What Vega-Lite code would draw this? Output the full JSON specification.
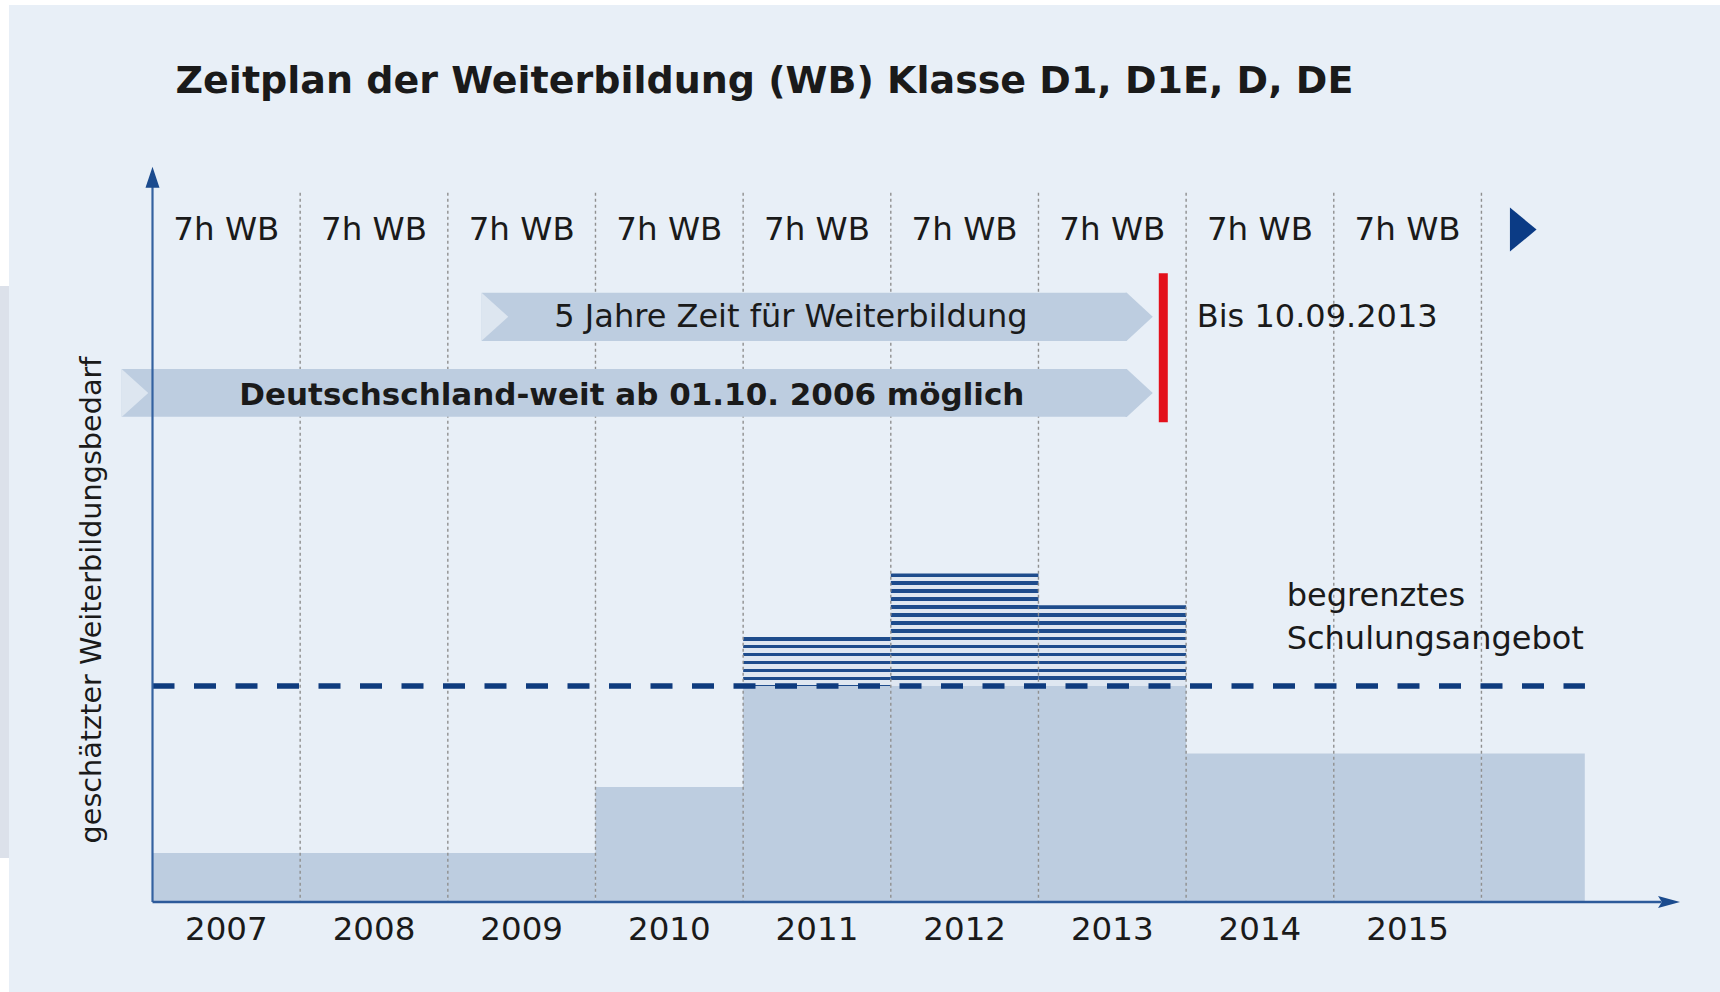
{
  "$schema": "https://vega.github.io/schema/vega-lite/v6.json",
  "width": 1720,
  "height": 992,
  "autosize": {"type": "none"},
  "padding": 0,
  "background": "#FFFFFF",
  "config": {
    "view": {"stroke": null},
    "axis": {"disable": true},
    "legend": {"disable": true},
    "text": {"font": "DejaVu Sans", "color": "#1A1A1A"}
  },
  "data": {"values": [{}]},
  "datasets": {
    "jahre": [
      {"jahr": 2007, "von": 2006.5, "bis": 2007.5, "gedeckt": 22.7, "bedarf": 22.7, "pflicht": "7h WB"},
      {"jahr": 2008, "von": 2007.5, "bis": 2008.5, "gedeckt": 22.7, "bedarf": 22.7, "pflicht": "7h WB"},
      {"jahr": 2009, "von": 2008.5, "bis": 2009.5, "gedeckt": 22.7, "bedarf": 22.7, "pflicht": "7h WB"},
      {"jahr": 2010, "von": 2009.5, "bis": 2010.5, "gedeckt": 53.2, "bedarf": 53.2, "pflicht": "7h WB"},
      {"jahr": 2011, "von": 2010.5, "bis": 2011.5, "gedeckt": 100, "bedarf": 122.7, "pflicht": "7h WB"},
      {"jahr": 2012, "von": 2011.5, "bis": 2012.5, "gedeckt": 100, "bedarf": 152.1, "pflicht": "7h WB"},
      {"jahr": 2013, "von": 2012.5, "bis": 2013.5, "gedeckt": 100, "bedarf": 137.4, "pflicht": "7h WB"},
      {"jahr": 2014, "von": 2013.5, "bis": 2014.5, "gedeckt": 68.7, "bedarf": 68.7, "pflicht": "7h WB"},
      {"jahr": 2015, "von": 2014.5, "bis": 2015.5, "gedeckt": 68.7, "bedarf": 68.7, "pflicht": "7h WB"},
      {"jahr": 2016, "von": 2015.5, "bis": 2016.2, "gedeckt": 68.7, "bedarf": 68.7, "pflicht": ""}
    ],
    "banner": [
      {"text": "5 Jahre Zeit für Weiterbildung", "von": 2008.729, "bis": 2013.098, "oben": 282.08, "unten": 259.72},
      {"text": "Deutschschland-weit ab 01.10. 2006 möglich", "von": 2006.291, "bis": 2013.098, "oben": 246.76, "unten": 224.68}
    ]
  },
  "layer": [
    {
      "mark": {"type": "rect", "fill": "#E8EFF7"},
      "encoding": {
        "x": {"datum": 2005.528, "type": "quantitative", "scale": {"domain": [2005.4672, 2017.1156]}},
        "x2": {"datum": 2017.1156},
        "y": {"datum": 415.28, "type": "quantitative", "scale": {"domain": [-41.667, 417.593]}},
        "y2": {"datum": -41.667}
      }
    },
    {
      "mark": {"type": "rect", "fill": "#DCE1EA"},
      "encoding": {
        "x": {"datum": 2005.4672, "type": "quantitative", "scale": {"domain": [2005.4672, 2017.1156]}},
        "x2": {"datum": 2005.528},
        "y": {"datum": 285.2, "type": "quantitative", "scale": {"domain": [-41.667, 417.593]}},
        "y2": {"datum": 20.4}
      }
    },
    {
      "data": {"name": "jahre"},
      "mark": {"type": "rect", "fill": "#BDCDE0"},
      "encoding": {
        "x": {"field": "von", "type": "quantitative", "scale": {"domain": [2005.4672, 2017.1156]}},
        "x2": {"field": "bis"},
        "y": {"field": "gedeckt", "type": "quantitative", "scale": {"domain": [-41.667, 417.593]}},
        "y2": {"datum": 0}
      }
    },
    {
      "data": {"name": "jahre"},
      "transform": [{"filter": "datum.bedarf > datum.gedeckt"}],
      "mark": {"type": "rect"},
      "encoding": {
        "x": {"field": "von", "type": "quantitative", "scale": {"domain": [2005.4672, 2017.1156]}},
        "x2": {"field": "bis"},
        "y": {"field": "bedarf", "type": "quantitative", "scale": {"domain": [-41.667, 417.593]}},
        "y2": {"field": "gedeckt"},
        "fill": {
          "condition": [
            {"test": "datum.jahr === 2011", "value": {"gradient": "linear", "x1": 0, "y1": 0, "x2": 0, "y2": 2.2959, "stops": [
              {"offset": 0, "color": "#1E4C8C"}, {"offset": 0.032, "color": "#1E4C8C"}, {"offset": 0.032, "color": "#DFE7F1"}, {"offset": 0.0704, "color": "#DFE7F1"},
              {"offset": 0.0704, "color": "#1E4C8C"}, {"offset": 0.1024, "color": "#1E4C8C"}, {"offset": 0.1024, "color": "#DFE7F1"}, {"offset": 0.1408, "color": "#DFE7F1"},
              {"offset": 0.1408, "color": "#1E4C8C"}, {"offset": 0.1728, "color": "#1E4C8C"}, {"offset": 0.1728, "color": "#DFE7F1"}, {"offset": 0.2112, "color": "#DFE7F1"},
              {"offset": 0.2112, "color": "#1E4C8C"}, {"offset": 0.2432, "color": "#1E4C8C"}, {"offset": 0.2432, "color": "#DFE7F1"}, {"offset": 0.2816, "color": "#DFE7F1"},
              {"offset": 0.2816, "color": "#1E4C8C"}, {"offset": 0.3136, "color": "#1E4C8C"}, {"offset": 0.3136, "color": "#DFE7F1"}, {"offset": 0.352, "color": "#DFE7F1"},
              {"offset": 0.352, "color": "#1E4C8C"}, {"offset": 0.384, "color": "#1E4C8C"}, {"offset": 0.384, "color": "#DFE7F1"}, {"offset": 0.4224, "color": "#DFE7F1"},
              {"offset": 0.4224, "color": "#1E4C8C"}, {"offset": 0.4544, "color": "#1E4C8C"}, {"offset": 0.4544, "color": "#DFE7F1"}, {"offset": 1, "color": "#DFE7F1"}
            ]}},
            {"test": "datum.jahr === 2013", "value": {"gradient": "linear", "x1": 0, "y1": 0, "x2": 0, "y2": 1.3923, "stops": [
              {"offset": 0, "color": "#1E4C8C"}, {"offset": 0.032, "color": "#1E4C8C"}, {"offset": 0.032, "color": "#DFE7F1"}, {"offset": 0.0704, "color": "#DFE7F1"},
              {"offset": 0.0704, "color": "#1E4C8C"}, {"offset": 0.1024, "color": "#1E4C8C"}, {"offset": 0.1024, "color": "#DFE7F1"}, {"offset": 0.1408, "color": "#DFE7F1"},
              {"offset": 0.1408, "color": "#1E4C8C"}, {"offset": 0.1728, "color": "#1E4C8C"}, {"offset": 0.1728, "color": "#DFE7F1"}, {"offset": 0.2112, "color": "#DFE7F1"},
              {"offset": 0.2112, "color": "#1E4C8C"}, {"offset": 0.2432, "color": "#1E4C8C"}, {"offset": 0.2432, "color": "#DFE7F1"}, {"offset": 0.2816, "color": "#DFE7F1"},
              {"offset": 0.2816, "color": "#1E4C8C"}, {"offset": 0.3136, "color": "#1E4C8C"}, {"offset": 0.3136, "color": "#DFE7F1"}, {"offset": 0.352, "color": "#DFE7F1"},
              {"offset": 0.352, "color": "#1E4C8C"}, {"offset": 0.384, "color": "#1E4C8C"}, {"offset": 0.384, "color": "#DFE7F1"}, {"offset": 0.4224, "color": "#DFE7F1"},
              {"offset": 0.4224, "color": "#1E4C8C"}, {"offset": 0.4544, "color": "#1E4C8C"}, {"offset": 0.4544, "color": "#DFE7F1"}, {"offset": 0.4928, "color": "#DFE7F1"},
              {"offset": 0.4928, "color": "#1E4C8C"}, {"offset": 0.5248, "color": "#1E4C8C"}, {"offset": 0.5248, "color": "#DFE7F1"}, {"offset": 0.5632, "color": "#DFE7F1"},
              {"offset": 0.5632, "color": "#1E4C8C"}, {"offset": 0.5952, "color": "#1E4C8C"}, {"offset": 0.5952, "color": "#DFE7F1"}, {"offset": 0.6336, "color": "#DFE7F1"},
              {"offset": 0.6336, "color": "#1E4C8C"}, {"offset": 0.6656, "color": "#1E4C8C"}, {"offset": 0.6656, "color": "#DFE7F1"}, {"offset": 1, "color": "#DFE7F1"}
            ]}}
          ],
          "value": {"gradient": "linear", "x1": 0, "y1": 0, "x2": 0, "y2": 1, "stops": [
            {"offset": 0, "color": "#1E4C8C"}, {"offset": 0.032, "color": "#1E4C8C"}, {"offset": 0.032, "color": "#DFE7F1"}, {"offset": 0.0704, "color": "#DFE7F1"},
            {"offset": 0.0704, "color": "#1E4C8C"}, {"offset": 0.1024, "color": "#1E4C8C"}, {"offset": 0.1024, "color": "#DFE7F1"}, {"offset": 0.1408, "color": "#DFE7F1"},
            {"offset": 0.1408, "color": "#1E4C8C"}, {"offset": 0.1728, "color": "#1E4C8C"}, {"offset": 0.1728, "color": "#DFE7F1"}, {"offset": 0.2112, "color": "#DFE7F1"},
            {"offset": 0.2112, "color": "#1E4C8C"}, {"offset": 0.2432, "color": "#1E4C8C"}, {"offset": 0.2432, "color": "#DFE7F1"}, {"offset": 0.2816, "color": "#DFE7F1"},
            {"offset": 0.2816, "color": "#1E4C8C"}, {"offset": 0.3136, "color": "#1E4C8C"}, {"offset": 0.3136, "color": "#DFE7F1"}, {"offset": 0.352, "color": "#DFE7F1"},
            {"offset": 0.352, "color": "#1E4C8C"}, {"offset": 0.384, "color": "#1E4C8C"}, {"offset": 0.384, "color": "#DFE7F1"}, {"offset": 0.4224, "color": "#DFE7F1"},
            {"offset": 0.4224, "color": "#1E4C8C"}, {"offset": 0.4544, "color": "#1E4C8C"}, {"offset": 0.4544, "color": "#DFE7F1"}, {"offset": 0.4928, "color": "#DFE7F1"},
            {"offset": 0.4928, "color": "#1E4C8C"}, {"offset": 0.5248, "color": "#1E4C8C"}, {"offset": 0.5248, "color": "#DFE7F1"}, {"offset": 0.5632, "color": "#DFE7F1"},
            {"offset": 0.5632, "color": "#1E4C8C"}, {"offset": 0.5952, "color": "#1E4C8C"}, {"offset": 0.5952, "color": "#DFE7F1"}, {"offset": 0.6336, "color": "#DFE7F1"},
            {"offset": 0.6336, "color": "#1E4C8C"}, {"offset": 0.6656, "color": "#1E4C8C"}, {"offset": 0.6656, "color": "#DFE7F1"}, {"offset": 0.704, "color": "#DFE7F1"},
            {"offset": 0.704, "color": "#1E4C8C"}, {"offset": 0.736, "color": "#1E4C8C"}, {"offset": 0.736, "color": "#DFE7F1"}, {"offset": 0.7744, "color": "#DFE7F1"},
            {"offset": 0.7744, "color": "#1E4C8C"}, {"offset": 0.8064, "color": "#1E4C8C"}, {"offset": 0.8064, "color": "#DFE7F1"}, {"offset": 0.8448, "color": "#DFE7F1"},
            {"offset": 0.8448, "color": "#1E4C8C"}, {"offset": 0.8768, "color": "#1E4C8C"}, {"offset": 0.8768, "color": "#DFE7F1"}, {"offset": 0.9152, "color": "#DFE7F1"},
            {"offset": 0.9152, "color": "#1E4C8C"}, {"offset": 0.9472, "color": "#1E4C8C"}, {"offset": 0.9472, "color": "#DFE7F1"}, {"offset": 1, "color": "#DFE7F1"}
          ]}
        }
      }
    },
    {
      "data": {"name": "jahre"},
      "transform": [{"filter": "datum.jahr <= 2015"}],
      "mark": {"type": "rule", "stroke": "#8F8F8F", "strokeWidth": 1.4, "strokeDash": [3, 3]},
      "encoding": {
        "x": {"field": "bis", "type": "quantitative", "scale": {"domain": [2005.4672, 2017.1156]}},
        "y": {"datum": 328.4, "type": "quantitative", "scale": {"domain": [-41.667, 417.593]}},
        "y2": {"datum": 0}
      }
    },
    {
      "data": {"name": "banner"},
      "mark": {"type": "rect", "fill": "#BDCDE0"},
      "encoding": {
        "x": {"field": "von", "type": "quantitative", "scale": {"domain": [2005.4672, 2017.1156]}},
        "x2": {"field": "bis"},
        "y": {"field": "oben", "type": "quantitative", "scale": {"domain": [-41.667, 417.593]}},
        "y2": {"field": "unten"}
      }
    },
    {
      "data": {"name": "banner"},
      "mark": {"type": "point", "shape": "M -0.05 0 L 0 0 L 1.083 1 L 0 2 L -0.05 2 Z", "size": 2304, "filled": true, "fill": "#BDCDE0", "opacity": 1, "strokeWidth": 0},
      "encoding": {
        "x": {"field": "bis", "type": "quantitative", "scale": {"domain": [2005.4672, 2017.1156]}},
        "y": {"field": "oben", "type": "quantitative", "scale": {"domain": [-41.667, 417.593]}}
      }
    },
    {
      "data": {"name": "banner"},
      "mark": {"type": "point", "shape": "M 0 0 L 1.11 1 L 0 2 Z", "size": 2304, "filled": true, "fill": "#DDE6F0", "opacity": 1, "strokeWidth": 0},
      "encoding": {
        "x": {"field": "von", "type": "quantitative", "scale": {"domain": [2005.4672, 2017.1156]}},
        "y": {"field": "oben", "type": "quantitative", "scale": {"domain": [-41.667, 417.593]}}
      }
    },
    {
      "mark": {"type": "text", "text": "5 Jahre Zeit für Weiterbildung", "fontSize": 32, "align": "center", "baseline": "alphabetic"},
      "encoding": {
        "x": {"datum": 2010.824, "type": "quantitative", "scale": {"domain": [2005.4672, 2017.1156]}},
        "y": {"datum": 266.3, "type": "quantitative", "scale": {"domain": [-41.667, 417.593]}}
      }
    },
    {
      "mark": {"type": "text", "text": "Deutschschland-weit ab 01.10. 2006 möglich", "fontSize": 31, "fontWeight": "bold", "align": "center", "baseline": "alphabetic"},
      "encoding": {
        "x": {"datum": 2009.746, "type": "quantitative", "scale": {"domain": [2005.4672, 2017.1156]}},
        "y": {"datum": 230.1, "type": "quantitative", "scale": {"domain": [-41.667, 417.593]}}
      }
    },
    {
      "mark": {"type": "rule", "stroke": "#E3101B", "strokeWidth": 9},
      "encoding": {
        "x": {"datum": 2013.3454, "type": "quantitative", "scale": {"domain": [2005.4672, 2017.1156]}},
        "y": {"datum": 291.06, "type": "quantitative", "scale": {"domain": [-41.667, 417.593]}},
        "y2": {"datum": 222.08}
      }
    },
    {
      "mark": {"type": "rule", "stroke": "#0E3B7E", "strokeWidth": 5.5, "strokeDash": [22, 19.5]},
      "encoding": {
        "x": {"datum": 2006.5, "type": "quantitative", "scale": {"domain": [2005.4672, 2017.1156]}},
        "x2": {"datum": 2016.201},
        "y": {"datum": 100, "type": "quantitative", "scale": {"domain": [-41.667, 417.593]}}
      }
    },
    {
      "mark": {"type": "rule", "stroke": "#3462A0", "strokeWidth": 2.2},
      "encoding": {
        "x": {"datum": 2006.5, "type": "quantitative", "scale": {"domain": [2005.4672, 2017.1156]}},
        "y": {"datum": 0, "type": "quantitative", "scale": {"domain": [-41.667, 417.593]}},
        "y2": {"datum": 331.9}
      }
    },
    {
      "mark": {"type": "rule", "stroke": "#2C5A9A", "strokeWidth": 2.5},
      "encoding": {
        "x": {"datum": 2006.5, "type": "quantitative", "scale": {"domain": [2005.4672, 2017.1156]}},
        "x2": {"datum": 2016.72},
        "y": {"datum": 0, "type": "quantitative", "scale": {"domain": [-41.667, 417.593]}}
      }
    },
    {
      "mark": {"type": "point", "shape": "M 0 0 L 0.667 2 L -0.667 2 Z", "size": 441, "filled": true, "fill": "#1B4B8E", "opacity": 1, "strokeWidth": 0},
      "encoding": {
        "x": {"datum": 2006.5, "type": "quantitative", "scale": {"domain": [2005.4672, 2017.1156]}},
        "y": {"datum": 340.4, "type": "quantitative", "scale": {"domain": [-41.667, 417.593]}}
      }
    },
    {
      "mark": {"type": "point", "shape": "M 0 0 L -2 -0.55 L -1.65 0 L -2 0.55 Z", "size": 484, "filled": true, "fill": "#1B4B8E", "opacity": 1, "strokeWidth": 0},
      "encoding": {
        "x": {"datum": 2016.845, "type": "quantitative", "scale": {"domain": [2005.4672, 2017.1156]}},
        "y": {"datum": 0, "type": "quantitative", "scale": {"domain": [-41.667, 417.593]}}
      }
    },
    {
      "mark": {"type": "point", "shape": "M 0 -1 L 1.21 0 L 0 1 Z", "size": 1936, "filled": true, "fill": "#0B3B85", "opacity": 1, "strokeWidth": 0},
      "encoding": {
        "x": {"datum": 2015.693, "type": "quantitative", "scale": {"domain": [2005.4672, 2017.1156]}},
        "y": {"datum": 311.3, "type": "quantitative", "scale": {"domain": [-41.667, 417.593]}}
      }
    },
    {
      "mark": {"type": "text", "text": "Zeitplan der Weiterbildung (WB) Klasse D1, D1E, D, DE", "fontSize": 38, "fontWeight": "bold", "align": "left", "baseline": "alphabetic"},
      "encoding": {
        "x": {"datum": 2006.656, "type": "quantitative", "scale": {"domain": [2005.4672, 2017.1156]}},
        "y": {"datum": 374.4, "type": "quantitative", "scale": {"domain": [-41.667, 417.593]}}
      }
    },
    {
      "data": {"name": "jahre"},
      "transform": [{"filter": "datum.jahr <= 2015"}],
      "mark": {"type": "text", "fontSize": 32.5, "align": "center", "baseline": "alphabetic"},
      "encoding": {
        "x": {"field": "jahr", "type": "quantitative", "scale": {"domain": [2005.4672, 2017.1156]}},
        "y": {"datum": 306.5, "type": "quantitative", "scale": {"domain": [-41.667, 417.593]}},
        "text": {"field": "pflicht", "type": "nominal"}
      }
    },
    {
      "data": {"name": "jahre"},
      "transform": [{"filter": "datum.jahr <= 2015"}],
      "mark": {"type": "text", "fontSize": 32.5, "align": "center", "baseline": "alphabetic"},
      "encoding": {
        "x": {"field": "jahr", "type": "quantitative", "scale": {"domain": [2005.4672, 2017.1156]}},
        "y": {"datum": -17.59, "type": "quantitative", "scale": {"domain": [-41.667, 417.593]}},
        "text": {"field": "jahr", "type": "nominal"}
      }
    },
    {
      "mark": {"type": "text", "text": "Bis 10.09.2013", "fontSize": 32, "align": "left", "baseline": "alphabetic"},
      "encoding": {
        "x": {"datum": 2013.572, "type": "quantitative", "scale": {"domain": [2005.4672, 2017.1156]}},
        "y": {"datum": 266.3, "type": "quantitative", "scale": {"domain": [-41.667, 417.593]}}
      }
    },
    {
      "mark": {"type": "text", "text": "begrenztes", "fontSize": 32, "align": "left", "baseline": "alphabetic"},
      "encoding": {
        "x": {"datum": 2014.181, "type": "quantitative", "scale": {"domain": [2005.4672, 2017.1156]}},
        "y": {"datum": 137.04, "type": "quantitative", "scale": {"domain": [-41.667, 417.593]}}
      }
    },
    {
      "mark": {"type": "text", "text": "Schulungsangebot", "fontSize": 32, "align": "left", "baseline": "alphabetic"},
      "encoding": {
        "x": {"datum": 2014.181, "type": "quantitative", "scale": {"domain": [2005.4672, 2017.1156]}},
        "y": {"datum": 117.13, "type": "quantitative", "scale": {"domain": [-41.667, 417.593]}}
      }
    },
    {
      "mark": {"type": "text", "text": "geschätzter Weiterbildungsbedarf", "fontSize": 28.7, "angle": 270, "align": "center", "baseline": "middle"},
      "encoding": {
        "x": {"datum": 2006.09, "type": "quantitative", "scale": {"domain": [2005.4672, 2017.1156]}},
        "y": {"datum": 139.8, "type": "quantitative", "scale": {"domain": [-41.667, 417.593]}}
      }
    }
  ]
}
